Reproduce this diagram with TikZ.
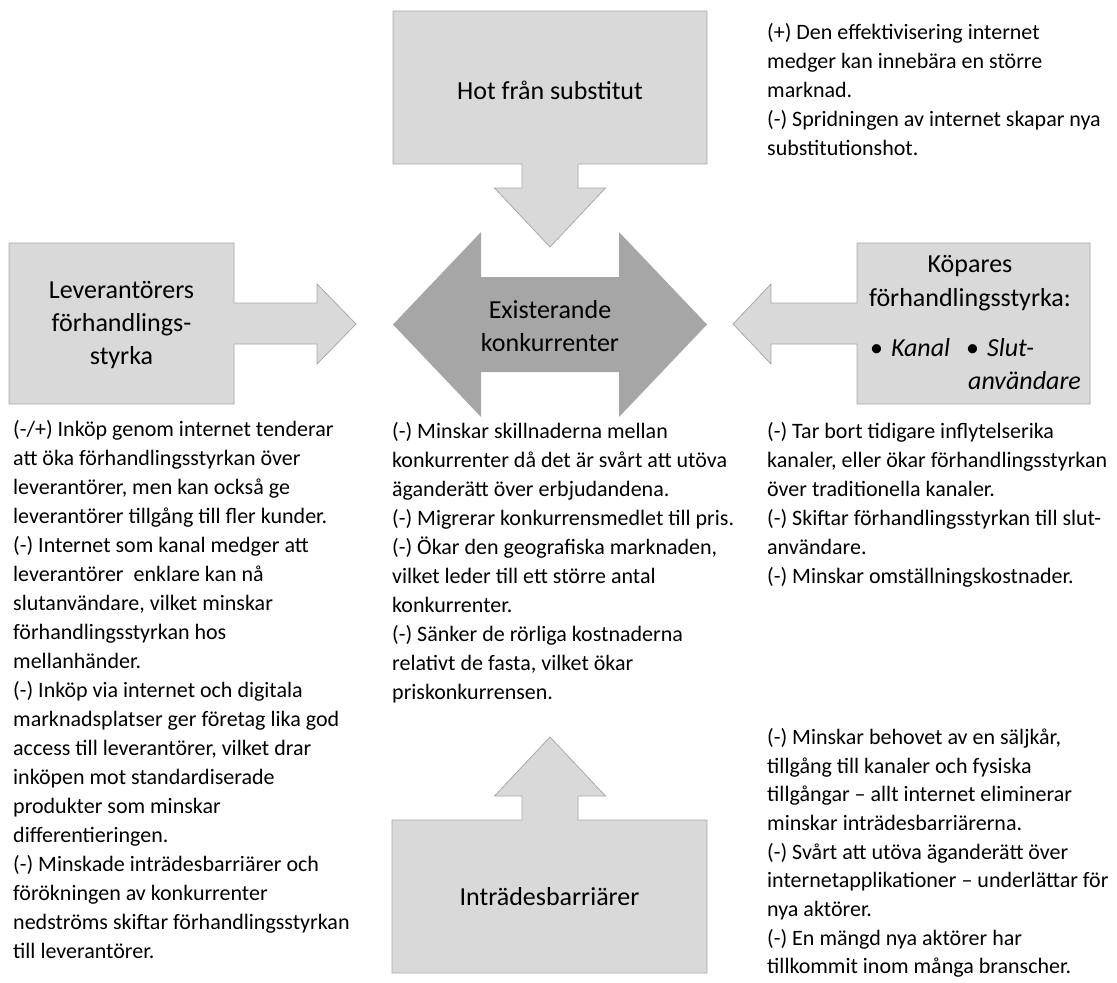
\documentclass[tikz,border=0pt]{standalone}
\usepackage{fontspec}
\setmainfont{Carlito}
\definecolor{boxfill}{HTML}{D9D9D9}
\definecolor{boxline}{HTML}{A9A9A9}
\definecolor{rivalfill}{HTML}{A6A6A6}
\newcommand{\boxsize}{\fontsize{26}{33}\selectfont}
\newcommand{\notesize}{\fontsize{22}{29}\selectfont}
\begin{document}
\begin{tikzpicture}[x=1pt,y=-1pt]
    \tikzstyle{every node}+=[inner sep=0pt]
    \tikzstyle{callout}=[draw=boxline, fill=boxfill, line width=0.8pt]
    \tikzstyle{boxtext}=[align=center, font=\boxsize]
    \tikzstyle{notetext}=[align=left, anchor=north west, font=\notesize]
    \useasboundingbox (0,0) rectangle (1117,983);
    \draw [callout] (393,11) -- (707,11) -- (707,164) -- (578,164) -- (578,188) -- (605.5,188) -- (550,247) -- (494.5,188) -- (522,188) -- (522,164) -- (393,164) -- cycle;
    \node [boxtext] (subst) at (550,90) {Hot från substitut};
    \draw [callout] (9,243) -- (234,243) -- (234,303) -- (317,303) -- (317,284) -- (356,324) -- (317,364) -- (317,344) -- (234,344) -- (234,404) -- (9,404) -- cycle;
    \node [boxtext] (lev) at (121.5,325) {Leverantörers\\förhandlings-\\styrka};
    \draw [callout] (1090,243) -- (857,243) -- (857,303) -- (771,303) -- (771,284) -- (733,324) -- (771,364) -- (771,344) -- (857,344) -- (857,404) -- (1090,404) -- cycle;
    \node [boxtext, font=\fontsize{26}{34}\selectfont] (kop) at (970,283) {Köpares\\förhandlingsstyrka:};
    \node [boxtext, anchor=base west] (kanal) at (870,356) {•\hspace{8pt}\textit{Kanal}};
    \node [boxtext, anchor=base west] (slut) at (966,356) {•\hspace{8pt}\textit{Slut-}};
    \node [boxtext, anchor=base west] (anv) at (968,389) {\textit{användare}};
    \draw [callout] (392,973) -- (707,973) -- (707,820) -- (578,820) -- (578,796) -- (605.5,796) -- (550,737) -- (494.5,796) -- (522,796) -- (522,820) -- (392,820) -- cycle;
    \node [boxtext] (intr) at (549.5,897) {Inträdesbarriärer};
    \fill [rivalfill] (393,324.5) -- (481,232) -- (481,277) -- (619,277) -- (619,232) -- (707,324.5) -- (619,417) -- (619,372) -- (481,372) -- (481,417) -- cycle;
    \node [boxtext] (rival) at (550,326) {Existerande\\konkurrenter};
    \node [notetext] (substnote) at (767,18.5) {\strut(+) Den effektivisering internet\\medger kan innebära en större\\marknad.\\(-) Spridningen av internet skapar nya\\substitutionshot.};
    \node [notetext] (levnote) at (13,416) {\strut(-/+) Inköp genom internet tenderar\\att öka förhandlingsstyrkan över\\leverantörer, men kan också ge\\leverantörer tillgång till fler kunder.\\(-) Internet som kanal medger att\\leverantörer~ enklare kan nå\\slutanvändare, vilket minskar\\förhandlingsstyrkan hos\\mellanhänder.\\(-) Inköp via internet och digitala\\marknadsplatser ger företag lika god\\access till leverantörer, vilket drar\\inköpen mot standardiserade\\produkter som minskar\\differentieringen.\\(-) Minskade inträdesbarriärer och\\förökningen av konkurrenter\\nedströms skiftar förhandlingsstyrkan\\till leverantörer.};
    \node [notetext] (rivalnote) at (392,418) {\strut(-) Minskar skillnaderna mellan\\konkurrenter då det är svårt att utöva\\äganderätt över erbjudandena.\\(-) Migrerar konkurrensmedlet till pris.\\(-) Ökar den geografiska marknaden,\\vilket leder till ett större antal\\konkurrenter.\\(-) Sänker de rörliga kostnaderna\\relativt de fasta, vilket ökar\\priskonkurrensen.};
    \node [notetext] (kopnote) at (767,418) {\strut(-) Tar bort tidigare inflytelserika\\kanaler, eller ökar förhandlingsstyrkan\\över traditionella kanaler.\\(-) Skiftar förhandlingsstyrkan till slut-\\användare.\\(-) Minskar omställningskostnader.};
    \node [notetext, font=\fontsize{22}{28.7}\selectfont] (intrnote) at (767,724) {\strut(-) Minskar behovet av en säljkår,\\tillgång till kanaler och fysiska\\tillgångar – allt internet eliminerar\\minskar inträdesbarriärerna.\\(-) Svårt att utöva äganderätt över\\internetapplikationer – underlättar för\\nya aktörer.\\(-) En mängd nya aktörer har\\tillkommit inom många branscher.};
\end{tikzpicture}
\end{document}
